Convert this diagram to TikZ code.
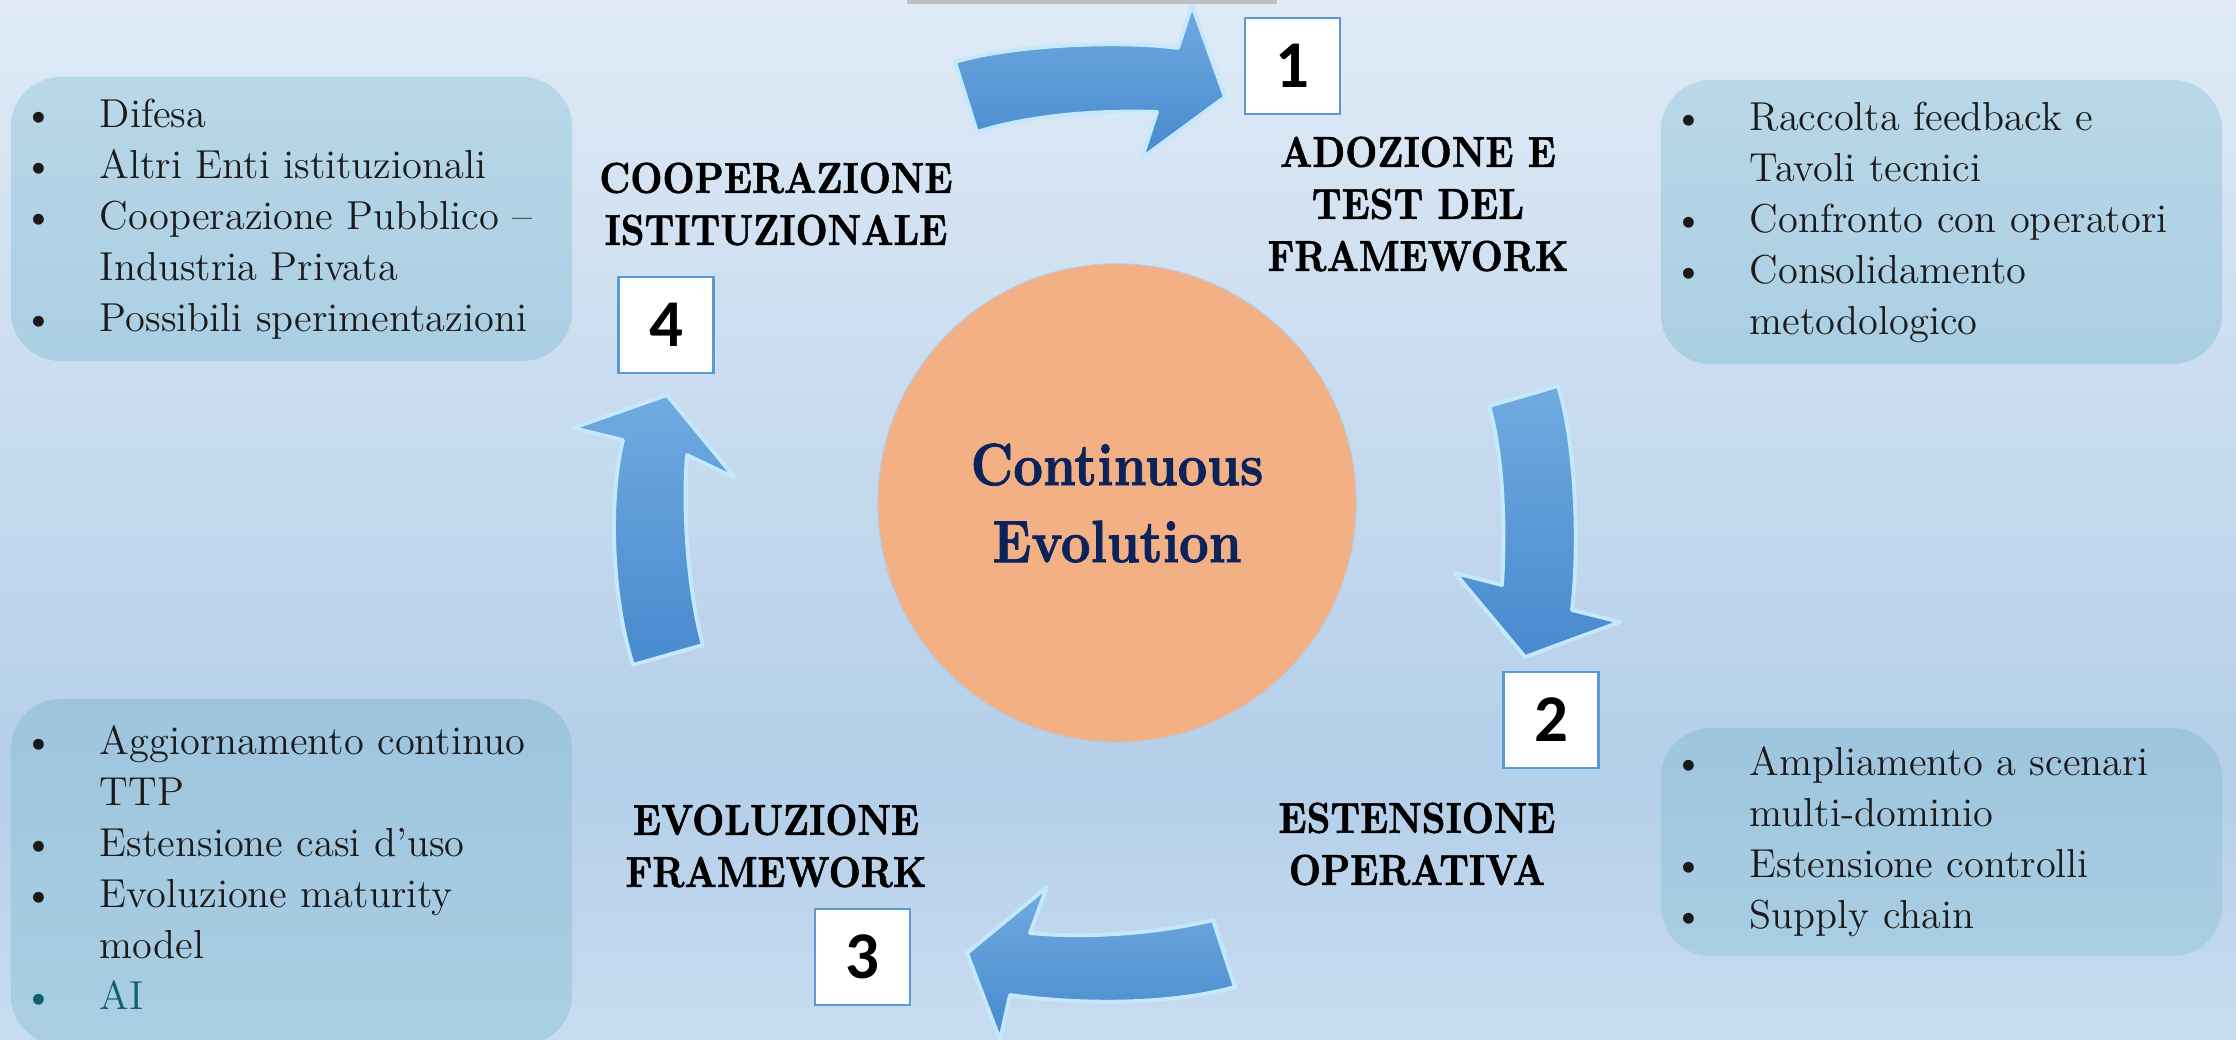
\documentclass[tikz,border=0pt]{standalone}
\usepackage{fontspec}
\newfontfamily\numfont{Carlito}
\newfontfamily\headfont{lmroman10-bold.otf}[FakeStretch=0.86,FakeBold=1.2]

\definecolor{bgtop}{RGB}{223,234,246}
\definecolor{bgmid}{RGB}{180,207,233}
\definecolor{bgbot}{RGB}{200,220,240}
\definecolor{boxtop}{RGB}{185,216,232}
\definecolor{boxbot}{RGB}{170,206,227}
\definecolor{boxlow}{RGB}{158,197,222}
\definecolor{arrowlight}{RGB}{112,170,224}
\definecolor{arrowdark}{RGB}{72,138,206}
\definecolor{arrowedge}{RGB}{196,232,252}
\definecolor{discfill}{RGB}{242,176,132}
\definecolor{discedge}{RGB}{190,200,215}
\definecolor{disctext}{RGB}{12,35,89}
\definecolor{numedge}{RGB}{91,155,213}
\definecolor{aiteal}{RGB}{14,95,115}
\definecolor{textdark}{RGB}{26,26,26}

\begin{document}
\begin{tikzpicture}[x=0.01cm,y=-0.01cm,
  infobox/.style={rounded corners=0.5cm,inner xsep=0.13cm,inner ysep=0pt,
    text width=5.35cm,align=left,text=textdark,
    font=\fontsize{11.5}{14.5}\selectfont},
  headline/.style={align=center,font=\headfont\fontsize{12.3}{14.8}\selectfont},
  discnode/.style={circle,minimum size=4.78cm,fill=discfill,draw=discedge,
    line width=0.3pt,align=center,text=disctext,
    font=\headfont\fontsize{17}{21.9}\selectfont},
  numbox/.style={draw=numedge,line width=0.6pt,fill=white,minimum width=0.95cm,
    minimum height=0.96cm,inner sep=0pt,font=\numfont\bfseries\fontsize{19}{19}\selectfont},
  blockarrow/.style={top color=arrowlight,bottom color=arrowdark,draw=arrowedge,
    line width=1.1pt,line join=round}]
\useasboundingbox (0,0) rectangle (2236,1040);

\shade[top color=bgtop,bottom color=bgmid] (0,0) rectangle (2236,780);
\shade[top color=bgmid,bottom color=bgbot] (0,780) rectangle (2236,1040);
\fill[gray!50] (907,0) rectangle (1277,4);

\node[infobox,top color=boxtop,bottom color=boxbot,minimum height=2.84cm] (coopbox) at (291.5,219) {%
\noindent\begin{tabular}{@{}p{0.76cm}@{}l@{}}
\textbullet & Difesa\\
\textbullet & Altri Enti istituzionali\\
\textbullet & Cooperazione Pubblico --\\
 & Industria Privata\\
\textbullet & Possibili sperimentazioni
\end{tabular}};

\node[infobox,top color=boxtop,bottom color=boxbot,minimum height=2.84cm] (adozbox) at (1941.5,222) {%
\noindent\begin{tabular}{@{}p{0.76cm}@{}l@{}}
\textbullet & Raccolta feedback e\\
 & Tavoli tecnici\\
\textbullet & Confronto con operatori\\
\textbullet & Consolidamento\\
 & metodologico
\end{tabular}};

\node[infobox,top color=boxlow,bottom color=boxbot,minimum height=3.46cm] (evolbox) at (291.5,872) {%
\noindent\begin{tabular}{@{}p{0.76cm}@{}l@{}}
\textbullet & Aggiornamento continuo\\
 & TTP\\
\textbullet & Estensione casi d’uso\\
\textbullet & Evoluzione maturity\\
 & model\\
\textcolor{aiteal}{\textbullet} & \textcolor{aiteal}{AI}
\end{tabular}};

\node[infobox,top color=boxlow,bottom color=boxbot,minimum height=2.28cm] (estbox) at (1941.5,842) {%
\noindent\begin{tabular}{@{}p{0.76cm}@{}l@{}}
\textbullet & Ampliamento a scenari\\
 & multi-dominio\\
\textbullet & Estensione controlli\\
\textbullet & Supply chain
\end{tabular}};

\node[discnode] (core) at (1117,503) {Continuous\\Evolution};

\draw[blockarrow] (955,62) .. controls (1010,45) and (1120,40) .. (1178,48) -- (1192,5)
  -- (1225,97) -- (1142,158) -- (1157,112) .. controls (1100,110) and (1030,115) .. (977,132) -- cycle;
\draw[blockarrow] (1489,406) -- (1558,386) .. controls (1575,440) and (1580,540) .. (1572,610)
  -- (1620,622) -- (1525,657) -- (1455,573) -- (1502,585) .. controls (1506,520) and (1502,450) .. (1489,406) -- cycle;
\draw[blockarrow] (1213,920) .. controls (1150,935) and (1080,938) .. (1030,933) -- (1047,887)
  -- (967,953) -- (1000,1040) -- (1010,995) .. controls (1080,1005) and (1170,1005) .. (1235,987) -- cycle;
\draw[blockarrow] (633,665) .. controls (612,600) and (608,500) .. (623,440) -- (573,428)
  -- (667,395) -- (735,478) -- (687,455) .. controls (682,520) and (690,600) .. (703,645) -- cycle;

\node[headline] (coop) at (776,204) {COOPERAZIONE\\ISTITUZIONALE};
\node[headline] (adoz) at (1418,204) {ADOZIONE E\\TEST DEL\\FRAMEWORK};
\node[headline] (est) at (1417,844) {ESTENSIONE\\OPERATIVA};
\node[headline] (evol) at (776,846) {EVOLUZIONE\\FRAMEWORK};

\foreach \n/\x/\y in {1/1292.5/66,2/1551/720,3/862.5/957,4/666/325}
  \node[numbox] (num\n) at (\x,\y) {\n};
\end{tikzpicture}
\end{document}
